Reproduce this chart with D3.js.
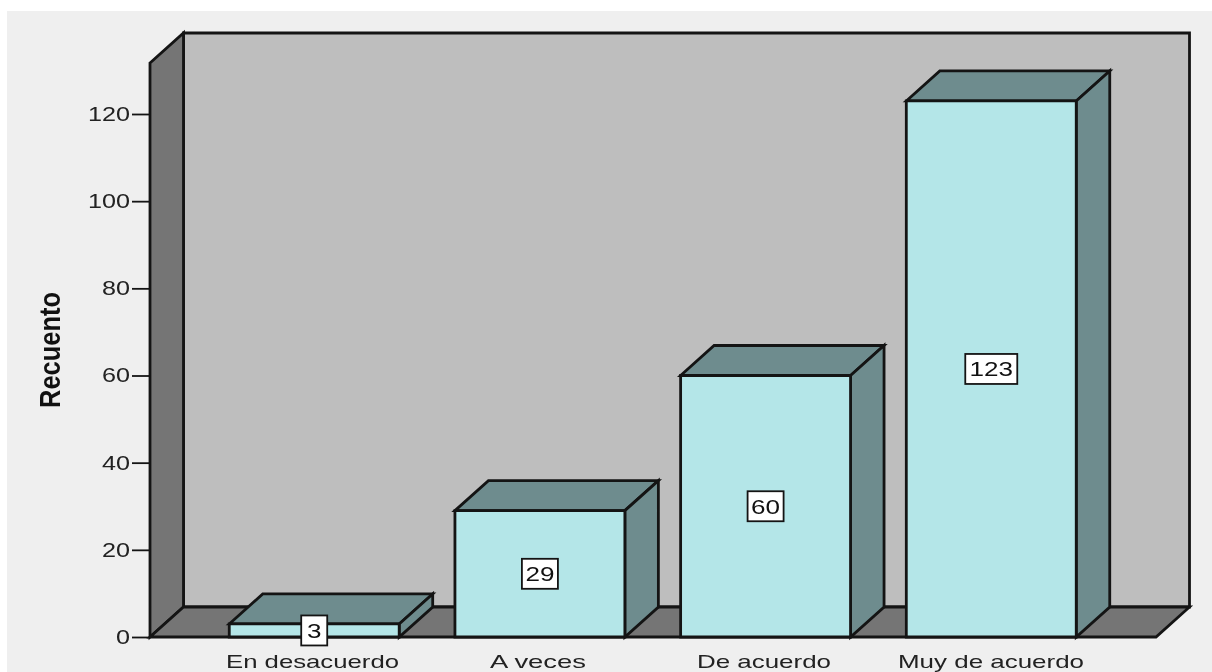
<!DOCTYPE html>
<html><head><meta charset="utf-8">
<script src="https://cdn.jsdelivr.net/npm/d3@7"></script>
<style>html,body{margin:0;padding:0;background:#fff}svg{display:block;filter:blur(0.5px)}
text{font-family:"Liberation Sans",Arial,sans-serif;fill:#111}</style></head>
<body><svg id="c" width="1212" height="672"></svg>
<script>
const categories = ["En desacuerdo","A veces","De acuerdo","Muy de acuerdo"];
const counts = [3,29,60,123];
const yTicks = [0,20,40,60,80,100,120];
const catWidths = [173,96,134,186];
const catCenters = [312.5,538,764,991];
const labelWidths = [26,36,36,52];

const svg = d3.select("#c");
const ink = "#141414";
const dx = 33.5, dy = -30;
const y = d3.scaleLinear().domain([0,120]).range([637,114]);
const x = d3.scaleBand().domain(categories).range([201.5,1104]).paddingInner(0.247).paddingOuter(0.123);
const topY = 63, left = 150, right = 1156;

svg.append("rect").attr("x",7).attr("y",11).attr("width",1205).attr("height",661).attr("fill","#efefef");
const g = svg.append("g").attr("stroke-linejoin","miter");
const poly = (pts,fill,sw=2.8)=>g.append("path").attr("d",d3.line()(pts)+"Z").attr("fill",fill).attr("stroke",ink).attr("stroke-width",sw);

poly([[left+dx,topY+dy],[right+dx,topY+dy],[right+dx,y(0)+dy],[left+dx,y(0)+dy]],"#bebebe");
poly([[left,topY],[left+dx,topY+dy],[left+dx,y(0)+dy],[left,y(0)]],"#757575");
poly([[left,y(0)],[left+dx,y(0)+dy],[right+dx,y(0)+dy],[right,y(0)]],"#757575");

const axis = d3.axisLeft(y).tickValues(yTicks).tickSize(18).tickPadding(2).tickFormat(d3.format("d"));
const ag = svg.append("g").attr("transform",`translate(${left},0)`).call(axis);
ag.select(".domain").remove();
ag.selectAll("line").attr("stroke",ink).attr("stroke-width",1.8);
ag.selectAll("text").attr("font-size",20).attr("font-family","Liberation Sans").style("fill","#222")
  .attr("textLength",d=>String(d).length*14).attr("lengthAdjust","spacingAndGlyphs");

counts.forEach((v,i)=>{
  const a = x(categories[i]), b = a + x.bandwidth(), t = y(v), z = y(0);
  poly([[a,t],[a+dx,t+dy],[b+dx,t+dy],[b,t]],"#6e8c8e");
  poly([[b,t],[b+dx,t+dy],[b+dx,z+dy],[b,z]],"#6e8c8e");
  poly([[a,t],[b,t],[b,z],[a,z]],"#b4e6e8");
});

counts.forEach((v,i)=>{
  const c = x(categories[i]) + x.bandwidth()/2, m = (y(v)+y(0))/2, w = labelWidths[i], h = 30;
  g.append("rect").attr("x",c-w/2).attr("y",m-h/2).attr("width",w).attr("height",h)
   .attr("fill","#fff").attr("stroke",ink).attr("stroke-width",1.8);
  svg.append("text").attr("x",c).attr("y",m+7.5).attr("text-anchor","middle").attr("font-size",21)
   .attr("textLength",String(v).length*14.5).attr("lengthAdjust","spacingAndGlyphs").text(v);
  svg.append("text").attr("x",catCenters[i]).attr("y",668).attr("text-anchor","middle").attr("font-size",19)
   .attr("textLength",catWidths[i]).attr("lengthAdjust","spacingAndGlyphs").style("fill","#222").text(categories[i]);
});

svg.append("text").attr("transform","translate(60,350) rotate(-90)").attr("text-anchor","middle")
  .attr("font-size",30).attr("font-weight","bold").attr("textLength",116).attr("lengthAdjust","spacingAndGlyphs").text("Recuento");
</script></body></html>
